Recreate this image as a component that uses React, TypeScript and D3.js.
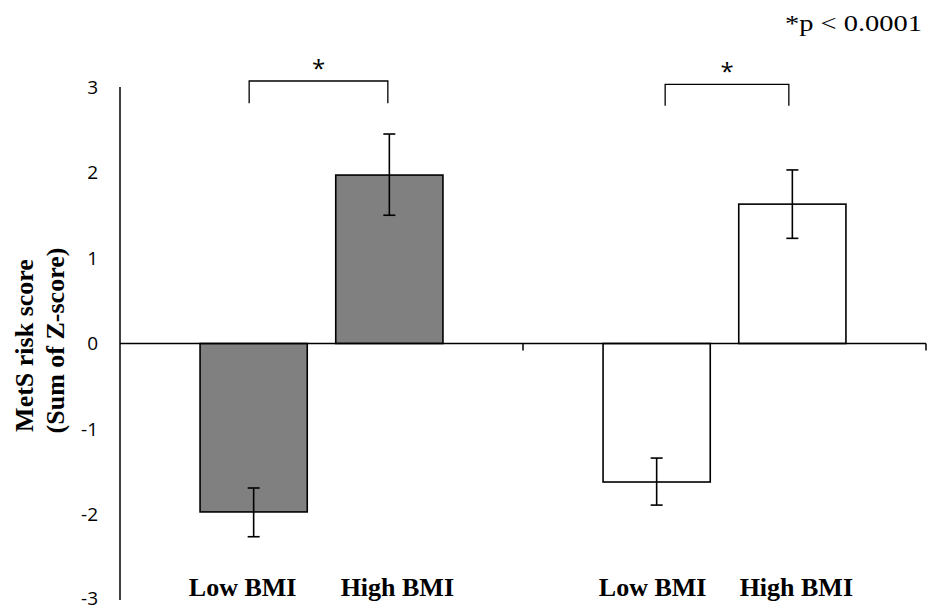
import React from "react";
import * as d3 from "d3";

const groups = ["Group A", "Group B"];
const categories = ["Low BMI", "High BMI"];
const means = [
  [-1.97, 1.97],
  [-1.62, 1.63],
];
const errLow = [
  [-2.26, 1.5],
  [-1.89, 1.23],
];
const errHigh = [
  [-1.69, 2.45],
  [-1.34, 2.03],
];
const fills = ["#808080", "#ffffff"];
const yTicks = [-3, -2, -1, 0, 1, 2, 3];
const bracketTop = [3.07, 3.03];
const bracketBottom = [2.81, 2.78];
const significance = "*";
const footnote = "*p < 0.0001";
const yTitle = ["MetS risk score", "(Sum of Z-score)"];

export default function App() {
  const W = 933, H = 611;
  const x0 = 120, x1 = 926;
  const y = d3.scaleLinear().domain([-3, 3]).range([600, 87]);
  const gx = d3.scaleBand().domain(groups).range([x0, x1]).padding(0);
  const bx = d3
    .scaleBand()
    .domain(categories)
    .range([0, gx.bandwidth()])
    .paddingInner(0.21)
    .paddingOuter(0.59);
  const bw = bx.bandwidth();
  const serif = "'Liberation Serif', 'Times New Roman', serif";
  const sans = "'Open Sans', 'Noto Sans', sans-serif";
  const zeroY = y(0);
  // layout nudges (pixels)
  const labelShift = [
    [-11, 8],
    [-4, 4],
  ];
  const bracketShift = [
    [-4.5, -1.5],
    [8.5, -3.5],
  ];

  return (
    <svg width={W} height={H} style={{ position: "absolute", left: 0, top: 0, background: "#fff" }}>
      <text x={922} y={31} textAnchor="end" fontFamily={serif} fontSize={24} textLength={137} lengthAdjust="spacingAndGlyphs">
        {footnote}
      </text>
      {/* y axis */}
      <line x1={x0} x2={x0} y1={y(3)} y2={y(-3)} stroke="#000" strokeWidth={1.5} />
      {yTicks.map((t) => (
        <text key={t} x={98} y={y(t) - (t === -3 ? 2 : 0)} dy="0.36em" textAnchor="end" fontFamily={sans} fontSize={19}>
          {t}
        </text>
      ))}
      <g transform={`translate(0, ${zeroY}) rotate(-90)`} fontFamily={serif} fontWeight="bold" fontSize={26} textAnchor="middle">
        <text x={-2} y={33}>{yTitle[0]}</text>
        <text x={3} y={64}>{yTitle[1]}</text>
      </g>
      {groups.map((g, gi) => {
        const gx0 = gx(g)!;
        const lowC = gx0 + bx(categories[0])! + bw / 2 + bracketShift[gi][0];
        const highC = gx0 + bx(categories[1])! + bw / 2 + bracketShift[gi][1];
        return (
          <g key={g}>
            {categories.map((c, ci) => {
              const v = means[gi][ci];
              const bxPos = gx0 + bx(c)!;
              const cx = bxPos + bw / 2;
              const lo = y(errLow[gi][ci]);
              const hi = y(errHigh[gi][ci]);
              return (
                <g key={c}>
                  <rect
                    x={bxPos}
                    y={Math.min(y(v), zeroY)}
                    width={bw}
                    height={Math.abs(y(v) - zeroY)}
                    fill={fills[gi]}
                    stroke="#000"
                    strokeWidth={1.6}
                  />
                  <line x1={cx} x2={cx} y1={lo} y2={hi} stroke="#000" strokeWidth={1.6} />
                  <line x1={cx - 6} x2={cx + 6} y1={lo} y2={lo} stroke="#000" strokeWidth={1.6} />
                  <line x1={cx - 6} x2={cx + 6} y1={hi} y2={hi} stroke="#000" strokeWidth={1.6} />
                  <text
                    x={cx + labelShift[gi][ci]}
                    y={596}
                    textAnchor="middle"
                    fontFamily={serif}
                    fontWeight="bold"
                    fontSize={26}
                  >
                    {c}
                  </text>
                </g>
              );
            })}
            <path
              d={`M${lowC},${y(bracketBottom[gi])}V${y(bracketTop[gi])}H${highC}V${y(bracketBottom[gi])}`}
              fill="none"
              stroke="#000"
              strokeWidth={1.3}
            />
            <text
              x={(lowC + highC) / 2}
              y={y(bracketTop[gi]) - 4}
              textAnchor="middle"
              fontFamily={sans}
              fontSize={24}
            >
              {significance}
            </text>
          </g>
        );
      })}
      {/* zero axis */}
      <line x1={x0} x2={x1} y1={zeroY} y2={zeroY} stroke="#000" strokeWidth={1.6} />
      {[gx(groups[1])!, x1].map((t, i) => (
        <line key={i} x1={t} x2={t} y1={zeroY} y2={zeroY + 7} stroke="#000" strokeWidth={1.5} />
      ))}
    </svg>
  );
}
